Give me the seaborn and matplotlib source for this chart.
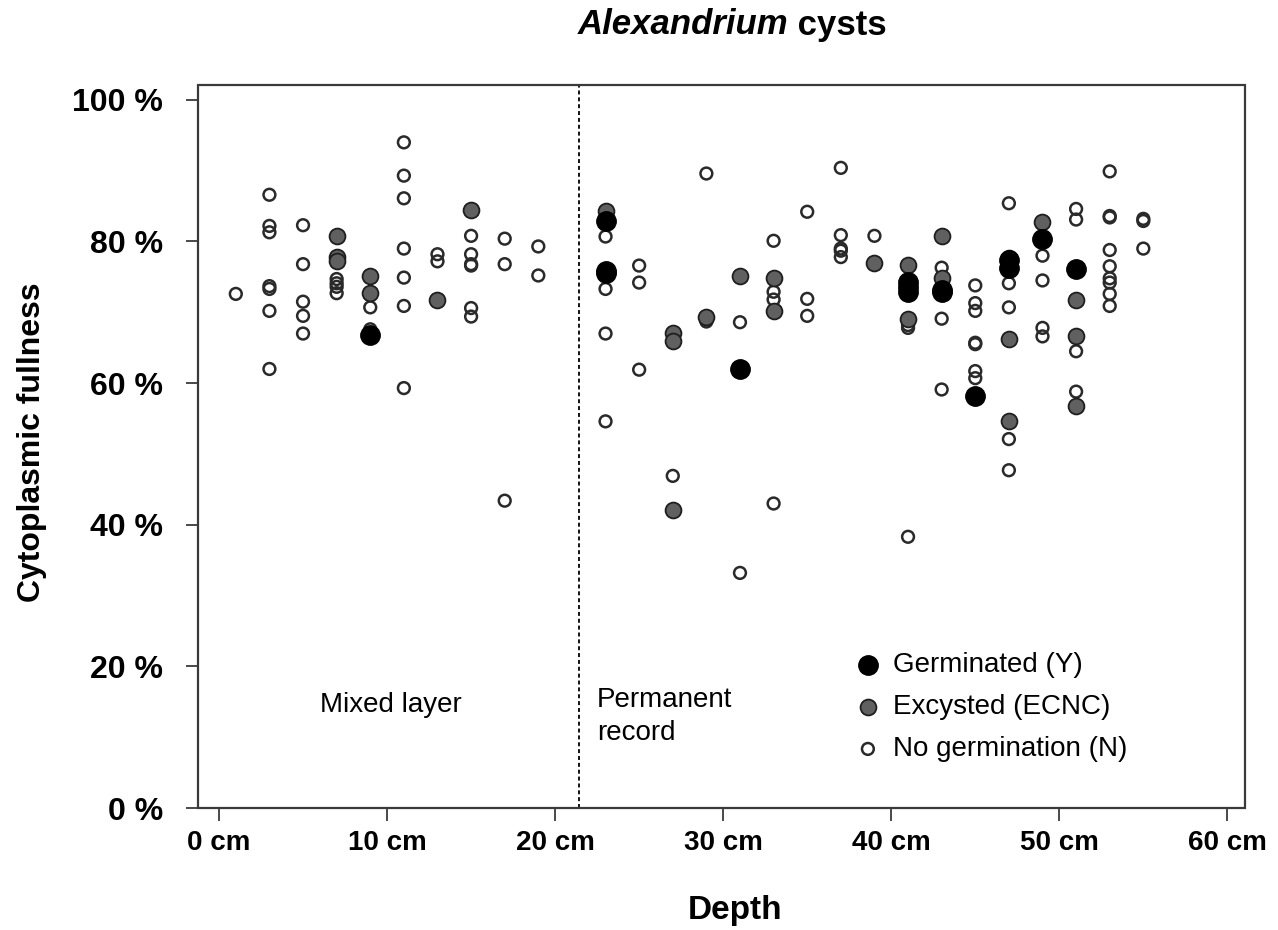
import matplotlib
matplotlib.use("Agg")
import matplotlib.pyplot as plt
import seaborn as sns
import pandas as pd
from matplotlib.patches import Rectangle

# ---------------- data ----------------
germ_depth = [9, 23, 23, 23, 31, 41, 41, 41, 43, 43, 45, 47, 47, 49, 51]
germ_value = [66.8, 82.9, 75.9, 75.5, 62.0, 74.3, 73.6, 72.8, 73.2, 72.8, 58.2, 77.4, 76.3, 80.4, 76.1]

exc_depth = [7, 7, 7, 9, 9, 13, 15, 23, 27, 27, 27, 29, 31, 33, 33, 39, 41, 41,
             43, 43, 47, 47, 47, 49, 51, 51, 51]
exc_value = [80.8, 77.8, 77.3, 75.1, 72.7, 71.8, 84.4, 84.3, 67.1, 65.9, 42.1, 69.4, 75.1, 74.8, 70.2, 77.0, 76.7, 69.0,
             80.8, 74.9, 77.6, 66.2, 54.7, 82.7, 71.8, 66.6, 56.8]

nog_depth = ([1] + [3] * 7 + [5] * 5 + [7] * 4 + [9] * 2 + [11] * 7 + [13] * 2 + [15] * 7 + [17] * 3 + [19] * 2
             + [23] * 4 + [25] * 3 + [27] + [29] * 2 + [31] * 2 + [33] * 4 + [35] * 3 + [37] * 5 + [39]
             + [41] * 3 + [43] * 3 + [45] * 7 + [47] * 5 + [49] * 4 + [51] * 4 + [53] * 9 + [55] * 3)
nog_value = [72.6,
             86.6, 82.2, 81.3, 73.7, 73.3, 70.2, 62.0,
             82.3, 76.8, 71.5, 69.5, 67.0,
             74.7, 74.1, 73.6, 72.7,
             70.7, 67.6,
             94.0, 89.3, 86.1, 79.0, 74.9, 70.9, 59.3,
             78.2, 77.2,
             84.4, 80.8, 78.2, 76.6, 76.8, 70.6, 69.4,
             80.4, 76.8, 43.4,
             79.3, 75.2,
             80.7, 73.3, 67.0, 54.6,
             76.6, 74.2, 61.9,
             46.9,
             89.6, 68.7,
             68.6, 33.2,
             80.1, 72.9, 71.8, 43.0,
             84.2, 71.9, 69.5,
             90.4, 80.9, 79.0, 78.7, 77.8,
             80.8,
             68.2, 67.8, 38.3,
             76.3, 69.1, 59.1,
             73.8, 71.3, 70.2, 65.7, 65.5, 61.7, 60.7,
             85.4, 74.1, 70.7, 52.1, 47.7,
             78.0, 74.5, 67.8, 66.6,
             84.6, 83.1, 64.5, 58.8,
             89.9, 83.6, 83.4, 78.8, 76.5, 74.8, 74.2, 72.6, 70.9,
             83.2, 82.9, 79.0]

categories = ["Germinated (Y)", "Excysted (ECNC)", "No germination (N)"]
x_ticks = [0, 10, 20, 30, 40, 50, 60]
x_ticklabels = ["0 cm", "10 cm", "20 cm", "30 cm", "40 cm", "50 cm", "60 cm"]
y_ticks = [0, 20, 40, 60, 80, 100]
y_ticklabels = ["0 %", "20 %", "40 %", "60 %", "80 %", "100 %"]
boundary_depth = 21.4

df = pd.concat([
    pd.DataFrame({"depth": germ_depth, "value": germ_value, "cat": categories[0]}),
    pd.DataFrame({"depth": exc_depth, "value": exc_value, "cat": categories[1]}),
    pd.DataFrame({"depth": nog_depth, "value": nog_value, "cat": categories[2]}),
], ignore_index=True)

# ---------------- style ----------------
sns.set_theme(style="white")
plt.rcParams["font.family"] = ["Liberation Sans", "DejaVu Sans"]
plt.rcParams["text.color"] = "black"
plt.rcParams["axes.labelcolor"] = "black"
plt.rcParams["xtick.color"] = "black"
plt.rcParams["ytick.color"] = "black"

W, H = 1278, 930
fig = plt.figure(figsize=(W / 100, H / 100), dpi=100)
ax = fig.add_axes([198 / W, 1 - 808 / H, (1245 - 198) / W, (808 - 85) / H])

# draw order: N, E, Y
sns.scatterplot(data=df[df.cat == categories[2]], x="depth", y="value", ax=ax,
                s=72, facecolor="none", edgecolor="#2a2a2a", linewidth=1.8,
                label=categories[2], zorder=3)
sns.scatterplot(data=df[df.cat == categories[1]], x="depth", y="value", ax=ax,
                s=130, color="#606060", edgecolor="#1e1e1e", linewidth=1.3,
                label=categories[1], zorder=4)
sns.scatterplot(data=df[df.cat == categories[0]], x="depth", y="value", ax=ax,
                s=195, color="black", edgecolor="black", linewidth=1.0,
                label=categories[0], zorder=5)

ax.set_xlim(-1.25, 61.05)
ax.set_ylim(0, 102.1)

ax.axvline(boundary_depth, color="black", linewidth=1.3, linestyle=(0, (2.2, 1.6)), zorder=2)

# box
for sp in ax.spines.values():
    sp.set_visible(False)
ax.add_patch(Rectangle((0, 0), 1, 1, transform=ax.transAxes, fill=False,
                       edgecolor="#3a3a3a", linewidth=1.6, clip_on=False, zorder=6))

ax.set_xticks(x_ticks)
ax.set_xticklabels(x_ticklabels, fontsize=20, fontweight="bold")
ax.set_yticks(y_ticks)
ax.set_yticklabels(y_ticklabels, fontsize=23, fontweight="bold")
ax.tick_params(axis="x", direction="out", length=9, width=1.3, color="#3a3a3a", pad=7, bottom=True)
ax.tick_params(axis="y", direction="out", length=9, width=1.3, color="#3a3a3a", pad=16, left=True)
ax.grid(False)

ax.set_xlabel("Depth", fontsize=24, fontweight="bold")
ax.set_ylabel("Cytoplasmic fullness", fontsize=23, fontweight="bold")
ax.xaxis.label.set_verticalalignment("center")
ax.xaxis.set_label_coords((735 - 198) / 1047, (808 - 910) / 723)
ax.yaxis.label.set_rotation_mode("default")
ax.yaxis.label.set_verticalalignment("center")
ax.yaxis.set_label_coords((32 - 198) / 1047, (808 - 442) / 723)

# annotations
ax.text(6.0, 14.5, "Mixed layer", fontsize=20, va="center", ha="left")
ax.text(22.5, 12.9, "Permanent\nrecord", fontsize=20, va="center", ha="left", linespacing=1.35)

# legend
handles, labels = ax.get_legend_handles_labels()
order = [labels.index(c) for c in categories]
ax.legend([handles[i] for i in order], [labels[i] for i in order],
          loc="upper left", bbox_to_anchor=((854 - 198) / 1047, (808 - 652) / 723),
          frameon=False, fontsize=20, handlelength=1.0, handletextpad=0.4,
          labelspacing=0.58, borderpad=0, borderaxespad=0, scatterpoints=1)

# title: italic genus + regular word, both bold
ty = 1 - 25 / H
t1 = fig.text(0, ty, "Alexandrium", fontsize=25, fontweight="bold", fontstyle="italic", va="center", ha="left")
t2 = fig.text(0, ty, " cysts", fontsize=25, fontweight="bold", va="center", ha="left")
fig.canvas.draw()
r = fig.canvas.get_renderer()
w1 = t1.get_window_extent(r).width
w2 = t2.get_window_extent(r).width
start = 732 - (w1 + w2) / 2
t1.set_x(start / W)
t2.set_x((start + w1) / W)

fig.savefig("out.png", dpi=100, facecolor="white")
